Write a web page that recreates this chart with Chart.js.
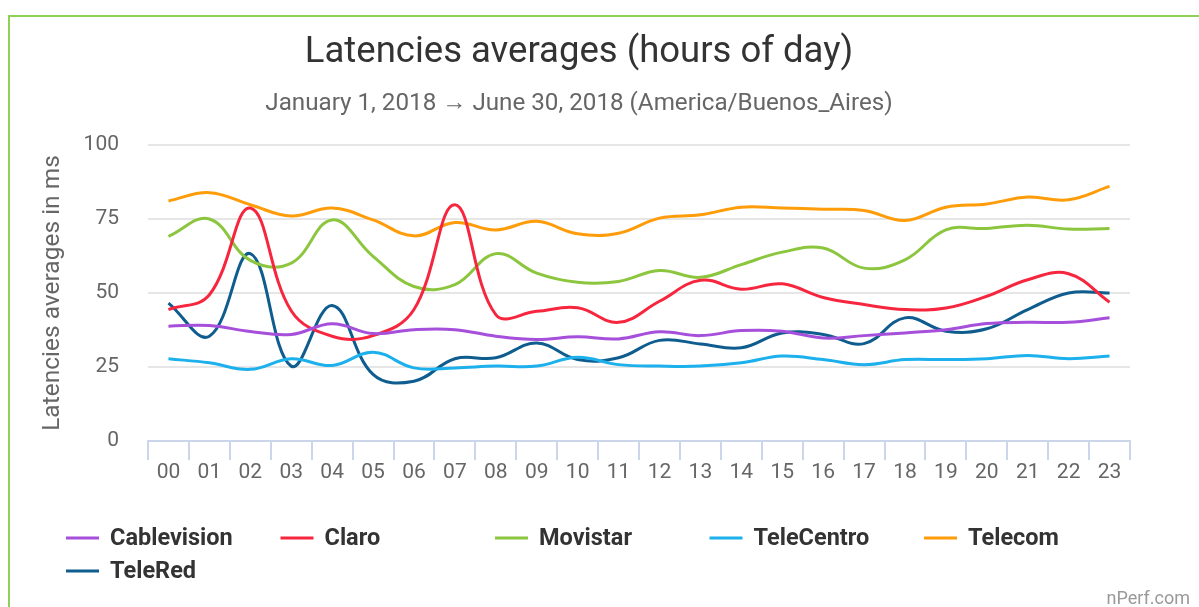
<!DOCTYPE html>
<html>
<head>
<meta charset="utf-8">
<script src="https://cdn.jsdelivr.net/npm/chart.js@4/dist/chart.umd.min.js"></script>
<style>
  html, body { margin: 0; padding: 0; background: #fff; }
  #wrap { position: relative; width: 1199px; height: 607px; overflow: hidden; }
  #frame { position: absolute; left: 8px; top: 15px; width: 1300px; height: 700px;
           border-top: 2px solid #8fd154; border-left: 2px solid #8fd154; }
  canvas { position: absolute; left: 0; top: 0; }
</style>
</head>
<body>
<div id="wrap">
  <div id="frame"></div>
  <canvas id="latChart" width="1199" height="607"></canvas>
</div>
<script>
var hours = ['00', '01', '02', '03', '04', '05', '06', '07', '08', '09', '10', '11',
             '12', '13', '14', '15', '16', '17', '18', '19', '20', '21', '22', '23'];
var yTicks = [0, 25, 50, 75, 100];

var cablevision = [38.8, 39, 37, 36, 39.6, 36.3, 37.6, 37.6, 35.4, 34.3, 35.2, 34.5, 36.9, 35.6, 37.3, 37.1, 34.8, 35.6, 36.5, 37.6, 39.7, 40.1, 40.1, 41.6];
var claro = [44.4, 49.4, 78.7, 44, 35.4, 35.6, 44.4, 79.8, 42.7, 43.8, 45, 40.1, 47.2, 54.3, 51.3, 53.1, 48.5, 46.1, 44.4, 44.9, 48.9, 54.5, 56.5, 46.9];
var movistar = [69.1, 75, 61, 60.1, 74.7, 62.4, 52.2, 52.8, 63.3, 56.7, 53.6, 53.9, 57.6, 55.3, 59.6, 63.8, 65.2, 58.4, 61.2, 71.3, 71.8, 72.9, 71.6, 71.8];
var telecentro = [27.8, 26.4, 24.2, 27.8, 25.5, 30, 24.7, 24.7, 25.3, 25.3, 28.3, 25.8, 25.3, 25.3, 26.4, 28.7, 27.5, 25.8, 27.5, 27.5, 27.8, 28.9, 27.8, 28.7];
var telecom = [81.1, 83.9, 79.8, 76, 78.7, 74.7, 69.3, 73.8, 71.3, 74.2, 70, 70.2, 75.3, 76.4, 79, 78.7, 78.3, 77.9, 74.5, 79, 80.1, 82.4, 81.5, 86];
var telered = [46.6, 35.4, 63.3, 25.3, 45.8, 22.5, 20.2, 27.8, 28.1, 33.1, 27.5, 28.1, 34, 32.8, 31.5, 36.5, 36, 32.9, 41.6, 37.1, 37.9, 44.4, 50, 50];

var titleText = 'Latencies averages (hours of day)';
var subtitleText = 'January 1, 2018 \u2192 June 30, 2018 (America/Buenos_Aires)';

function series(label, data, color) {
    return {
        label: label,
        data: data,
        borderColor: color,
        backgroundColor: color,
        borderWidth: 3,
        pointRadius: 0,
        pointHoverRadius: 0,
        fill: false,
        tension: 0.4
    };
}

// titles, legend and credit drawn on the canvas
var decorations = {
    id: 'decorations',
    afterDraw: function (chart) {
        var ctx = chart.ctx;
        ctx.save();
        ctx.textBaseline = 'middle';
        ctx.textAlign = 'center';
        ctx.fillStyle = '#333';
        ctx.font = '36.5px Roboto';
        ctx.fillText(titleText, 579, 53);
        ctx.fillStyle = '#666';
        ctx.font = '24.2px Roboto';
        ctx.fillText(subtitleText, 579, 104);

        ctx.textAlign = 'left';
        ctx.font = 'bold 23.5px Roboto';
        chart.data.datasets.forEach(function (ds, i) {
            var x = 66 + (i % 5) * 214.5;
            var y = 538 + Math.floor(i / 5) * 33;
            ctx.strokeStyle = ds.borderColor;
            ctx.lineWidth = 3;
            ctx.beginPath();
            ctx.moveTo(x, y);
            ctx.lineTo(x + 33, y);
            ctx.stroke();
            ctx.fillStyle = '#333';
            ctx.fillText(ds.label, x + 44, y + 1);
        });

        ctx.textAlign = 'right';
        ctx.fillStyle = '#999';
        ctx.font = '18px Roboto';
        ctx.fillText('nPerf.com', 1190, 599);
        ctx.restore();
    }
};

var ctx = document.getElementById('latChart').getContext('2d');
var latChart = new Chart(ctx, {
    type: 'line',
    data: {
        labels: hours,
        datasets: [
            series('Cablevision', cablevision, '#a64fdb'),
            series('Claro', claro, '#f7263f'),
            series('Movistar', movistar, '#8cc63f'),
            series('TeleCentro', telecentro, '#1cb0ec'),
            series('Telecom', telecom, '#ff9c0a'),
            series('TeleRed', telered, '#0f5c8e')
        ]
    },
    options: {
        responsive: false,
        animation: false,
        events: [],
        layout: { padding: { top: 145, left: 0, right: 69, bottom: 126 } },
        plugins: {
            legend: { display: false },
            title: { display: false },
            tooltip: { enabled: false }
        },
        scales: {
            x: {
                offset: true,
                afterFit: function (scale) { scale.height = 40; },
                border: { color: '#ccd6eb', width: 2 },
                grid: {
                    offset: true,
                    drawOnChartArea: false,
                    drawTicks: true,
                    tickLength: 19,
                    color: '#ccd6eb',
                    lineWidth: 2
                },
                ticks: {
                    color: '#666',
                    font: { family: 'Roboto', size: 21 },
                    padding: 0,
                    maxRotation: 0,
                    autoSkip: false
                }
            },
            y: {
                min: 0,
                max: 100,
                afterFit: function (scale) { scale.width = 148; },
                afterBuildTicks: function (scale) {
                    scale.ticks = yTicks.map(function (v) { return { value: v }; });
                },
                border: { display: false },
                grid: {
                    drawTicks: false,
                    lineWidth: 2,
                    color: function (c) { return c.tick && c.tick.value === 0 ? 'rgba(0,0,0,0)' : '#e6e6e6'; }
                },
                ticks: {
                    color: '#666',
                    font: { family: 'Roboto', size: 21 },
                    padding: 29
                },
                title: {
                    display: true,
                    text: 'Latencies averages in ms',
                    color: '#666',
                    font: { family: 'Roboto', size: 24.5 },
                    padding: { top: 38, bottom: 0 }
                }
            }
        }
    },
    plugins: [decorations]
});
</script>
</body>
</html>
